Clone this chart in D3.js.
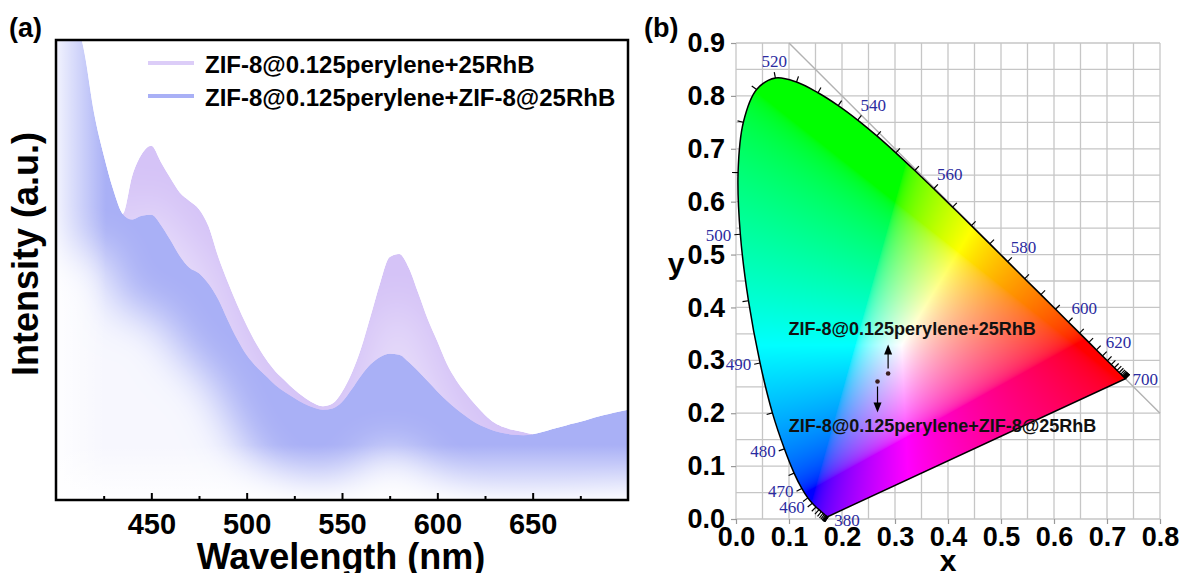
<!DOCTYPE html>
<html>
<head>
<meta charset="utf-8">
<script src="https://cdn.jsdelivr.net/npm/d3@7"></script>
<style>
  html, body { margin: 0; padding: 0; background: #fff; }
  svg { display: block; }
</style>
</head>
<body>
<svg id="fig" width="1185" height="573"></svg>
<script>
// ---- panel (a) data: emission spectra
const wavelength = [400,405,410,415,420,425,430,435,440,445,450,455,460,465,470,475,480,485,490,495,
  500,505,510,515,520,525,530,535,540,545,550,555,560,565,570,575,580,585,590,595,
  600,605,610,615,620,625,630,635,640,645,650,655,660,665,670,675,680,685,690,695,700];
const rhb = [1.22,1.12,1.03,0.94,0.81,0.72,0.650,0.622,0.705,0.752,0.770,0.735,0.700,0.668,0.650,0.632,0.595,0.530,0.475,0.425,
  0.380,0.340,0.307,0.280,0.260,0.240,0.224,0.211,0.204,0.210,0.235,0.275,0.330,0.400,0.472,0.528,0.535,0.505,0.450,0.393,
  0.345,0.296,0.260,0.232,0.207,0.185,0.168,0.158,0.152,0.148,0.143,0.140,0.146,0.151,0.157,0.162,0.168,0.174,0.179,0.184,0.188];
const zifRhb = [1.25,1.15,1.06,0.97,0.84,0.75,0.675,0.622,0.610,0.618,0.620,0.598,0.565,0.530,0.505,0.493,0.470,0.437,0.392,0.350,
  0.315,0.290,0.270,0.250,0.235,0.222,0.210,0.201,0.196,0.199,0.213,0.240,0.270,0.295,0.311,0.318,0.316,0.300,0.280,0.258,
  0.236,0.216,0.198,0.182,0.168,0.158,0.150,0.145,0.142,0.141,0.143,0.148,0.154,0.159,0.165,0.170,0.176,0.182,0.187,0.192,0.196];
const seriesNames = ['ZIF-8@0.125perylene+25RhB', 'ZIF-8@0.125perylene+ZIF-8@25RhB'];
const xTicksA = [450, 500, 550, 600, 650];
const xMinorA = [425, 475, 525, 575, 625, 675];

// ---- panel (b) data: CIE 1931 spectral locus and the two samples
const cieWl = [380,385,390,395,400,405,410,415,420,425,430,435,440,445,450,455,460,465,470,475,480,485,490,495,
  500,505,510,515,520,525,530,535,540,545,550,555,560,565,570,575,580,585,590,595,600,605,610,615,620,625,
  630,635,640,645,650,655,660,665,670,675,680,685,690,695,700];
const cieX = [0.1741,0.1740,0.1738,0.1736,0.1733,0.1730,0.1726,0.1721,0.1714,0.1703,0.1689,0.1669,0.1644,0.1611,0.1566,0.1510,
  0.1440,0.1355,0.1241,0.1096,0.0913,0.0687,0.0454,0.0235,0.0082,0.0039,0.0139,0.0389,0.0743,0.1142,0.1547,0.1929,
  0.2296,0.2658,0.3016,0.3373,0.3731,0.4087,0.4441,0.4788,0.5125,0.5448,0.5752,0.6029,0.6270,0.6482,0.6658,0.6801,
  0.6915,0.7006,0.7079,0.7140,0.7190,0.7230,0.7260,0.7283,0.7300,0.7311,0.7320,0.7327,0.7334,0.7340,0.7344,0.7346,0.7347];
const cieY = [0.0050,0.0050,0.0049,0.0049,0.0048,0.0048,0.0048,0.0048,0.0051,0.0058,0.0069,0.0086,0.0109,0.0138,0.0177,0.0227,
  0.0297,0.0399,0.0578,0.0868,0.1327,0.2007,0.2950,0.4127,0.5384,0.6548,0.7502,0.8120,0.8338,0.8262,0.8059,0.7816,
  0.7543,0.7243,0.6923,0.6589,0.6245,0.5896,0.5547,0.5202,0.4866,0.4544,0.4242,0.3965,0.3725,0.3514,0.3340,0.3197,
  0.3083,0.2993,0.2920,0.2859,0.2809,0.2770,0.2740,0.2717,0.2700,0.2689,0.2680,0.2673,0.2666,0.2660,0.2656,0.2654,0.2653];
const locusLabels = [380, 460, 470, 480, 490, 500, 520, 540, 560, 580, 600, 620, 700];
const sampleX = [0.287, 0.267];
const sampleY = [0.275, 0.260];
const xTicksB = [0, 0.1, 0.2, 0.3, 0.4, 0.5, 0.6, 0.7, 0.8];
const yTicksB = [0, 0.1, 0.2, 0.3, 0.4, 0.5, 0.6, 0.7, 0.8, 0.9];

const SANS = "'Liberation Sans', Arial, sans-serif";
const SERIF = "'Liberation Serif', 'Times New Roman', serif";
const PURPLE = '#d5c3f7';
const BLUE = '#a9b0f6';

const svg = d3.select('#fig');
const defs = svg.append('defs');

// ================= panel (a)
const A = { left: 56, right: 628, top: 40, bottom: 500 };
const xA = d3.scaleLinear().domain([400, 700]).range([A.left, A.right]);
const yA = d3.scaleLinear().domain([0, 1]).range([A.bottom, A.top]);

defs.append('clipPath').attr('id', 'clipA').append('rect')
  .attr('x', A.left).attr('y', A.top).attr('width', A.right - A.left).attr('height', A.bottom - A.top);

defs.append('filter').attr('id', 'soft').attr('filterUnits', 'userSpaceOnUse')
  .attr('x', -100).attr('y', -100).attr('width', 900).attr('height', 900)
  .append('feGaussianBlur').attr('stdDeviation', 22);

const areaA = d3.area().x((d, i) => xA(wavelength[i])).y0(A.bottom).y1(d => yA(d)).curve(d3.curveMonotoneX);

// shifted copy of a spectrum, widened past the frame so the blur does not thin out at the sides
function fogPath(vals, dy, minY) {
  const pts = wavelength.map((w, i) => [xA(w), Math.max(yA(vals[i]) + dy, minY)]);
  pts.unshift([A.left - 90, pts[0][1]]);
  pts.push([A.right + 90, pts[pts.length - 1][1]]);
  return d3.area().x(p => p[0]).y0(A.bottom + 250).y1(p => p[1]).curve(d3.curveMonotoneX)(pts);
}

defs.append('clipPath').attr('id', 'clipPurple').append('path').attr('d', areaA(rhb));
defs.append('clipPath').attr('id', 'clipBlue').append('path').attr('d', areaA(zifRhb));

const fadeLeft = defs.append('linearGradient').attr('id', 'fadeLeft')
  .attr('gradientUnits', 'userSpaceOnUse').attr('x1', A.left).attr('x2', A.left + 50).attr('y1', 0).attr('y2', 0);
fadeLeft.append('stop').attr('offset', 0).attr('stop-color', '#fff').attr('stop-opacity', 0.85);
fadeLeft.append('stop').attr('offset', 1).attr('stop-color', '#fff').attr('stop-opacity', 0);
const fadeBottom = defs.append('linearGradient').attr('id', 'fadeBottom')
  .attr('gradientUnits', 'userSpaceOnUse').attr('x1', 0).attr('x2', 0).attr('y1', A.bottom - 55).attr('y2', A.bottom);
fadeBottom.append('stop').attr('offset', 0).attr('stop-color', '#fff').attr('stop-opacity', 0);
fadeBottom.append('stop').attr('offset', 1).attr('stop-color', '#fff').attr('stop-opacity', 0.92);

const plotA = svg.append('g').attr('clip-path', 'url(#clipA)');

const gP = plotA.append('g').attr('clip-path', 'url(#clipPurple)');
gP.append('path').attr('d', areaA(rhb)).attr('fill', PURPLE);
gP.append('path').attr('d', fogPath(rhb, 45, -1000)).attr('fill', '#fff').attr('opacity', 0.45).attr('filter', 'url(#soft)');

const gBl = plotA.append('g').attr('clip-path', 'url(#clipBlue)');
gBl.append('path').attr('d', areaA(zifRhb)).attr('fill', BLUE);
gBl.append('path').attr('d', fogPath(zifRhb, 95, 250)).attr('fill', '#fff').attr('opacity', 0.9).attr('filter', 'url(#soft)');
gBl.append('rect').attr('x', A.left).attr('y', A.top).attr('width', A.right - A.left).attr('height', A.bottom - A.top)
  .attr('fill', 'url(#fadeLeft)');
gBl.append('rect').attr('x', A.left).attr('y', A.bottom - 60).attr('width', A.right - A.left).attr('height', 60)
  .attr('fill', 'url(#fadeBottom)');

// axis ticks (inward) and labels
const axA = svg.append('g').attr('transform', `translate(0,${A.bottom})`)
  .call(d3.axisBottom(xA).tickValues(xTicksA).tickSize(-7).tickPadding(13));
axA.select('.domain').remove();
axA.selectAll('line').attr('stroke', '#000').attr('stroke-width', 2);
axA.selectAll('text').attr('font-family', SANS).attr('font-size', 29).attr('font-weight', 'bold').attr('fill', '#000');
const axAm = svg.append('g').attr('transform', `translate(0,${A.bottom})`)
  .call(d3.axisBottom(xA).tickValues(xMinorA).tickSize(-4).tickFormat(''));
axAm.select('.domain').remove();
axAm.selectAll('line').attr('stroke', '#000').attr('stroke-width', 2);

svg.append('rect').attr('x', A.left).attr('y', A.top).attr('width', A.right - A.left).attr('height', A.bottom - A.top)
  .attr('fill', 'none').attr('stroke', '#000').attr('stroke-width', 2.5);

svg.append('text').attr('x', 341).attr('y', 569).attr('text-anchor', 'middle')
  .attr('font-family', SANS).attr('font-size', 36).attr('font-weight', 'bold').text('Wavelength (nm)');
svg.append('text').attr('transform', 'translate(38,254) rotate(-90)').attr('text-anchor', 'middle')
  .attr('font-family', SANS).attr('font-size', 36).attr('font-weight', 'bold').text('Intensity (a.u.)');
svg.append('text').attr('x', 9).attr('y', 37).attr('font-family', SANS).attr('font-size', 27)
  .attr('font-weight', 'bold').text('(a)');

// legend
const legend = svg.append('g').selectAll('g').data(seriesNames).join('g')
  .attr('transform', (d, i) => `translate(148,${63 + i * 33})`);
legend.append('line').attr('x1', 0).attr('x2', 46).attr('stroke', (d, i) => i ? BLUE : '#dccdf8').attr('stroke-width', 4);
legend.append('text').attr('x', 57).attr('y', 10).attr('font-family', SANS).attr('font-size', 24)
  .attr('font-weight', 'bold').text(d => d);

// ================= panel (b)
const B = { left: 736, right: 1160, top: 43, bottom: 519 };
const xB = d3.scaleLinear().domain([0, 0.8]).range([B.left, B.right]);
const yB = d3.scaleLinear().domain([0, 0.9]).range([B.bottom, B.top]);

const gridB = svg.append('g').attr('stroke', '#c6c6c6').attr('stroke-width', 1.3);
gridB.selectAll('.gx').data(d3.range(0, 17).map(i => i * 0.05)).join('line')
  .attr('x1', d => xB(d)).attr('x2', d => xB(d)).attr('y1', B.top).attr('y2', B.bottom);
gridB.selectAll('.gy').data(d3.range(0, 19).map(i => i * 0.05)).join('line')
  .attr('y1', d => yB(d)).attr('y2', d => yB(d)).attr('x1', B.left).attr('x2', B.right);

// x + y = 1 line
svg.append('line').attr('x1', xB(0.1)).attr('y1', yB(0.9)).attr('x2', xB(0.8)).attr('y2', yB(0.2))
  .attr('stroke', '#b2b2b2').attr('stroke-width', 1.4);

const locusPx = cieWl.map((w, i) => [xB(cieX[i]), yB(cieY[i])]);
const locusD = d3.line().curve(d3.curveCatmullRom.alpha(0.5))(locusPx) + 'Z';
defs.append('clipPath').attr('id', 'clipLocus').append('path').attr('d', locusD);

// chromaticity colours: xy -> XYZ (Y = 1) -> linear sRGB, clip, normalise, gamma
function xyToRgb(x, y) {
  const X = x / y, Y = 1, Z = (1 - x - y) / y;
  let r = 3.2406 * X - 1.5372 * Y - 0.4986 * Z;
  let g = -0.9689 * X + 1.8758 * Y + 0.0415 * Z;
  let b = 0.0557 * X - 0.2040 * Y + 1.0570 * Z;
  r = Math.max(r, 0); g = Math.max(g, 0); b = Math.max(b, 0);
  const m = Math.max(r, g, b) || 1;
  const gam = c => (c <= 0.0031308 ? 12.92 * c : 1.055 * Math.pow(c, 1 / 2.4) - 0.055);
  return [gam(r / m), gam(g / m), gam(b / m)].map(c => Math.round(255 * c));
}
const W = B.right - B.left, H = B.bottom - B.top;
const cv = document.createElement('canvas');
cv.width = W; cv.height = H;
const ctx = cv.getContext('2d');
const img = ctx.createImageData(W, H);
for (let j = 0; j < H; j++) {
  const cy = Math.max(yB.invert(B.top + j + 0.5), 0.003);
  for (let i = 0; i < W; i++) {
    const cx = xB.invert(B.left + i + 0.5);
    const [r, g, b] = xyToRgb(cx, cy);
    const k = (j * W + i) * 4;
    img.data[k] = r; img.data[k + 1] = g; img.data[k + 2] = b; img.data[k + 3] = 255;
  }
}
ctx.putImageData(img, 0, 0);
svg.append('image').attr('href', cv.toDataURL()).attr('x', B.left).attr('y', B.top)
  .attr('width', W).attr('height', H).attr('preserveAspectRatio', 'none').attr('clip-path', 'url(#clipLocus)');

svg.append('path').attr('d', locusD).attr('fill', 'none').attr('stroke', '#000').attr('stroke-width', 1.5);

// outward normal of the locus, using neighbours at least 8 px away
function normalAt(i) {
  const p = locusPx[i];
  let a = i, b = i;
  while (a > 0 && Math.hypot(locusPx[a][0] - p[0], locusPx[a][1] - p[1]) < 8) a--;
  while (b < locusPx.length - 1 && Math.hypot(locusPx[b][0] - p[0], locusPx[b][1] - p[1]) < 8) b++;
  const tx = locusPx[b][0] - locusPx[a][0], ty = locusPx[b][1] - locusPx[a][1];
  const L = Math.hypot(tx, ty) || 1;
  return [ty / L, -tx / L];
}
const TICK = 6;
svg.append('g').selectAll('line').data(cieWl).join('line')
  .attr('x1', (d, i) => locusPx[i][0]).attr('y1', (d, i) => locusPx[i][1])
  .attr('x2', (d, i) => locusPx[i][0] + normalAt(i)[0] * TICK)
  .attr('y2', (d, i) => locusPx[i][1] + normalAt(i)[1] * TICK)
  .attr('stroke', '#000').attr('stroke-width', 1.2);

// wavelength labels
const endLabelOffset = { 380: [6, 10], 700: [7, 6] };
svg.append('g').selectAll('text').data(locusLabels).join('text')
  .each(function (w) {
    const i = cieWl.indexOf(w);
    const p = locusPx[i], n = normalAt(i);
    const tx = p[0] + n[0] * TICK, ty = p[1] + n[1] * TICK;
    let x, y, anchor;
    if (endLabelOffset[w]) { x = p[0] + endLabelOffset[w][0]; y = p[1] + endLabelOffset[w][1]; anchor = 'start'; }
    else if (n[0] > 0.4) { x = tx - 1; y = ty - 4; anchor = 'start'; }
    else if (n[0] < -0.4) { x = tx - 3; y = ty + 6; anchor = 'end'; }
    else { x = tx; y = ty - 5; anchor = 'middle'; }
    d3.select(this).attr('x', x).attr('y', y).attr('text-anchor', anchor);
  })
  .attr('font-family', SERIF).attr('font-size', 17).attr('fill', '#2b2ba0').text(d => d);

// axes of panel (b)
const axBx = svg.append('g').attr('transform', `translate(0,${B.bottom})`)
  .call(d3.axisBottom(xB).tickValues(xTicksB).tickSize(5).tickPadding(3).tickFormat(d3.format('.1f')));
const axBy = svg.append('g').attr('transform', `translate(${B.left},0)`)
  .call(d3.axisLeft(yB).tickValues(yTicksB).tickSize(5).tickPadding(6).tickFormat(d3.format('.1f')));
[axBx, axBy].forEach(ax => {
  ax.select('.domain').remove();
  ax.selectAll('line').attr('stroke', '#999').attr('stroke-width', 1.2);
  ax.selectAll('text').attr('font-family', SANS).attr('font-size', 27).attr('font-weight', 'bold').attr('fill', '#000');
});
svg.append('text').attr('x', xB(0.4)).attr('y', 571).attr('text-anchor', 'middle')
  .attr('font-family', SANS).attr('font-size', 30).attr('font-weight', 'bold').text('x');
svg.append('text').attr('x', 676).attr('y', 274).attr('text-anchor', 'middle')
  .attr('font-family', SANS).attr('font-size', 30).attr('font-weight', 'bold').text('y');
svg.append('text').attr('x', 644).attr('y', 37).attr('font-family', SANS).attr('font-size', 27)
  .attr('font-weight', 'bold').text('(b)');

// samples with arrows to their names
const samples = seriesNames.map((name, i) => ({ name, x: xB(sampleX[i]), y: yB(sampleY[i]), up: i === 0 }));
const gS = svg.append('g');
gS.selectAll('circle').data(samples).join('circle')
  .attr('cx', d => d.x).attr('cy', d => d.y).attr('r', 2.3).attr('fill', '#3a1e1e');
gS.selectAll('line').data(samples).join('line')
  .attr('x1', d => d.x).attr('x2', d => d.x)
  .attr('y1', d => d.up ? d.y - 5 : d.y + 5).attr('y2', d => d.up ? d.y - 22 : d.y + 24)
  .attr('stroke', '#000').attr('stroke-width', 1.2);
gS.selectAll('path').data(samples).join('path')
  .attr('d', d => {
    const tip = d.up ? d.y - 29 : d.y + 31, base = d.up ? tip + 10 : tip - 10;
    return `M${d.x},${tip}L${d.x - 4},${base}L${d.x + 4},${base}Z`;
  })
  .attr('fill', '#000');
gS.selectAll('text').data(samples).join('text')
  .attr('x', d => d.up ? d.x + 24 : d.x + 65).attr('y', d => d.up ? d.y - 39 : d.y + 51)
  .attr('text-anchor', 'middle').attr('font-family', SANS).attr('font-size', 18).attr('font-weight', 'bold')
  .attr('fill', '#111').text(d => d.name);
</script>
</body>
</html>
